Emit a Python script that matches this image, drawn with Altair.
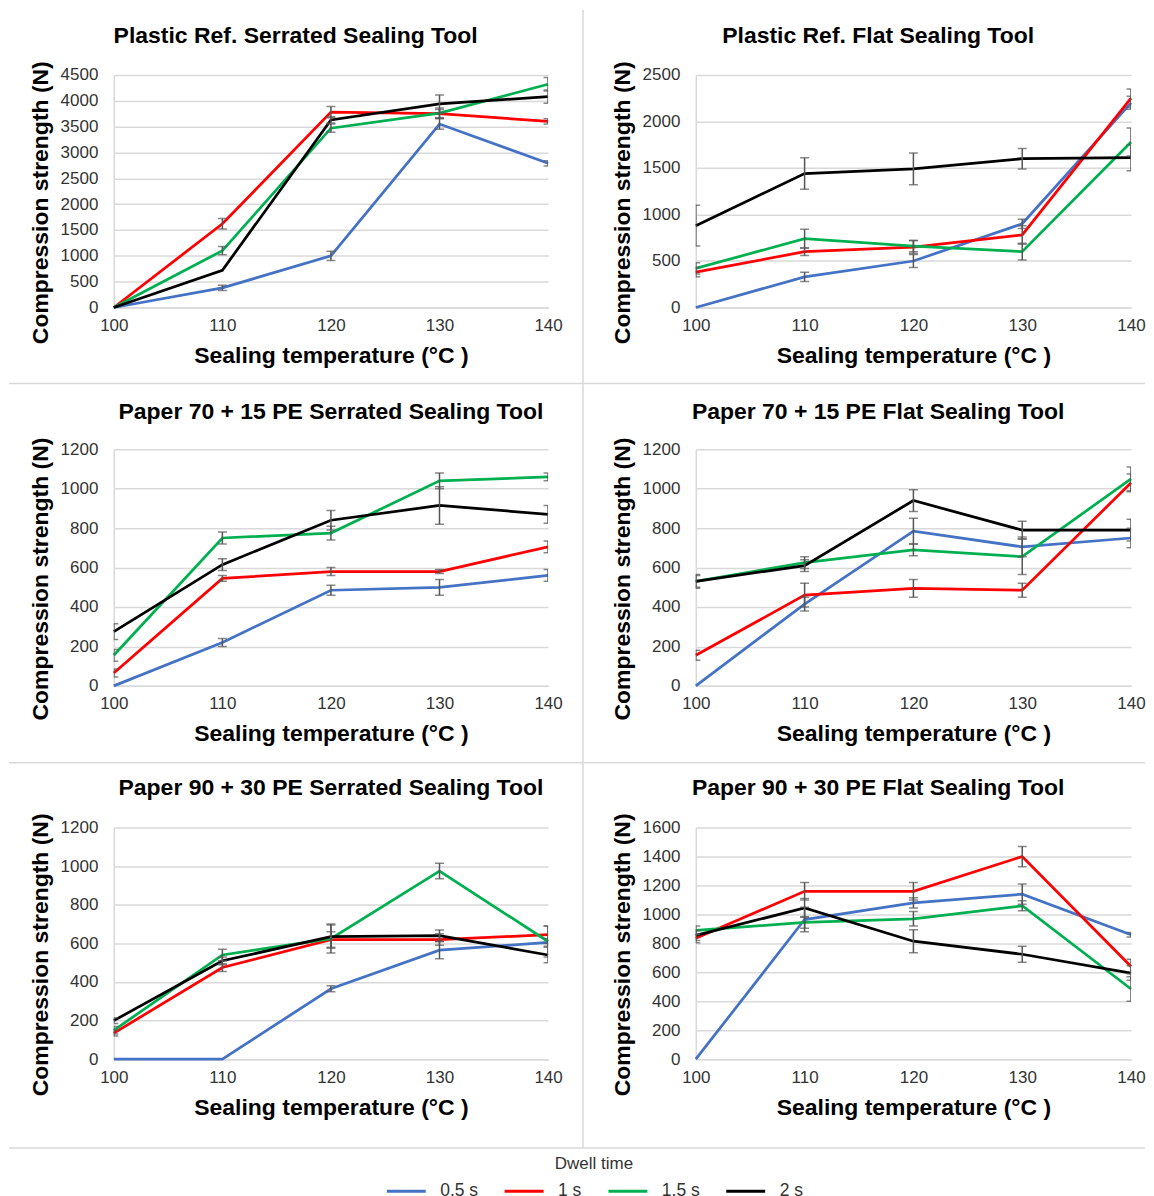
import altair as alt
import pandas as pd

temps = [100, 110, 120, 130, 140]
dwell_times = ["0.5 s", "1 s", "1.5 s", "2 s"]
line_colors = ["#4472C4", "#FF0000", "#00B050", "#000000"]

panel_titles = [
    "Plastic Ref. Serrated Sealing Tool",
    "Plastic Ref. Flat Sealing Tool",
    "Paper 70 + 15 PE Serrated Sealing Tool",
    "Paper 70 + 15 PE Flat Sealing Tool",
    "Paper 90 + 30 PE Serrated Sealing Tool",
    "Paper 90 + 30 PE Flat Sealing Tool",
]
y_max = [4500, 2500, 1200, 1200, 1200, 1600]
y_step = [500, 500, 200, 200, 200, 200]

# mean compression strength (N); rows = dwell time 0.5 s, 1 s, 1.5 s, 2 s
plastic_serrated_mean = [
    [0, 380, 1000, 3550, 2790],
    [0, 1620, 3780, 3750, 3600],
    [0, 1100, 3470, 3760, 4320],
    [0, 720, 3630, 3940, 4080],
]
plastic_serrated_err = [
    [0, 50, 90, 100, 50],
    [0, 100, 110, 80, 50],
    [0, 80, 80, 100, 130],
    [0, 0, 60, 170, 130],
]
plastic_flat_mean = [
    [0, 330, 500, 900, 2200],
    [380, 600, 650, 780, 2250],
    [420, 740, 660, 600, 1780],
    [880, 1440, 1490, 1600, 1610],
]
plastic_flat_err = [
    [0, 50, 70, 50, 70],
    [50, 40, 70, 100, 100],
    [60, 100, 60, 90, 150],
    [220, 170, 170, 110, 140],
]
paper70_serrated_mean = [
    [0, 220, 485, 500, 560],
    [65, 545, 580, 580, 705],
    [155, 750, 775, 1040, 1060],
    [275, 615, 840, 915, 870],
]
paper70_serrated_err = [
    [0, 20, 25, 40, 30],
    [20, 15, 20, 10, 30],
    [30, 30, 35, 40, 20],
    [40, 30, 50, 95, 45],
]
paper70_flat_mean = [
    [0, 415, 785, 705, 750],
    [155, 460, 495, 485, 1030],
    [530, 625, 690, 655, 1050],
    [530, 610, 940, 790, 790],
]
paper70_flat_err = [
    [0, 35, 65, 50, 50],
    [25, 60, 45, 35, 45],
    [30, 30, 30, 90, 60],
    [35, 30, 55, 45, 55],
]
paper90_serrated_mean = [
    [0, 0, 365, 565, 605],
    [135, 475, 620, 620, 645],
    [150, 540, 625, 975, 610],
    [200, 510, 635, 640, 540],
]
paper90_serrated_err = [
    [0, 0, 15, 45, 20],
    [15, 20, 40, 30, 45],
    [20, 30, 75, 40, 80],
    [15, 20, 60, 30, 40],
]
paper90_flat_mean = [
    [0, 965, 1080, 1140, 860],
    [835, 1160, 1160, 1400, 640],
    [890, 945, 970, 1060, 485],
    [855, 1045, 815, 725, 595],
]
paper90_flat_err = [
    [0, 85, 35, 70, 15],
    [30, 60, 60, 70, 50],
    [30, 40, 50, 35, 85],
    [35, 65, 80, 55, 50],
]

panel_means = [plastic_serrated_mean, plastic_flat_mean, paper70_serrated_mean,
               paper70_flat_mean, paper90_serrated_mean, paper90_flat_mean]
panel_errs = [plastic_serrated_err, plastic_flat_err, paper70_serrated_err,
              paper70_flat_err, paper90_serrated_err, paper90_flat_err]

X_TITLE = "Sealing temperature (°C )"
Y_TITLE = "Compression strength (N)"
FONT = "Liberation Sans"
ERR = "#555555"
GRID = "#d9d9d9"
LABEL = "#333333"


def frame(means, errs):
    rows = []
    for d, m_list, e_list in zip(dwell_times, means, errs):
        for t, m, e in zip(temps, m_list, e_list):
            rows.append({"temp": t, "dwell": d, "value": m, "err": e,
                         "lo": m - e, "hi": m + e})
    return pd.DataFrame(rows)


color_enc = alt.Color(
    "dwell:N",
    scale=alt.Scale(domain=dwell_times, range=line_colors),
    legend=alt.Legend(
        title="Dwell time", orient="none", legendX=272, legendY=1083,
        direction="horizontal", columns=4, titleAnchor="middle", titleOrient="top",
        symbolType="stroke", symbolSize=1521, symbolStrokeWidth=3,
        labelOffset=13, columnPadding=20, titlePadding=-3, padding=0,
        labelFontSize=17.5, titleFontSize=17, titleFontWeight="normal",
        labelColor=LABEL, titleColor=LABEL, labelFont=FONT, titleFont=FONT,
    ),
)


def panel(i, w, h, title_frame):
    df = frame(panel_means[i], panel_errs[i])
    y_values = list(range(0, y_max[i] + 1, y_step[i]))
    x_enc = alt.X(
        "temp:Q", scale=alt.Scale(domain=[100, 140], nice=False, zero=False),
        axis=alt.Axis(values=temps, tickCount=len(temps), title=X_TITLE, grid=False,
                      ticks=False, tickSize=0, labelPadding=10, titlePadding=11,
                      format="d", labelFlush=False, labelOverlap=False),
    )
    y_enc = alt.Y(
        "value:Q", scale=alt.Scale(domain=[0, y_max[i]], nice=False, zero=True),
        axis=alt.Axis(values=y_values, tickCount=len(y_values), title=Y_TITLE,
                      grid=True, ticks=False, tickSize=0, labelPadding=16,
                      titlePadding=8, titleY=h / 2 + 11, format="d",
                      labelFlush=False, labelOverlap=False),
    )
    base = alt.Chart(df)
    lines = base.mark_line(strokeWidth=2.75).encode(x=x_enc, y=y_enc, color=color_enc)
    eb = base.transform_filter(alt.datum.err > 0)
    bars = eb.mark_rule(color=ERR, strokeWidth=1.5, clip=True).encode(
        x=alt.X("temp:Q", title=X_TITLE),
        y=alt.Y("lo:Q", title=Y_TITLE), y2="hi:Q")
    cap_hi = eb.mark_tick(color=ERR, thickness=1.5, size=9, orient="horizontal", clip=True).encode(
        x=alt.X("temp:Q", title=X_TITLE), y=alt.Y("hi:Q", title=Y_TITLE))
    cap_lo = eb.mark_tick(color=ERR, thickness=1.5, size=9, orient="horizontal", clip=True).encode(
        x=alt.X("temp:Q", title=X_TITLE), y=alt.Y("lo:Q", title=Y_TITLE))
    return alt.layer(lines, bars, cap_hi, cap_lo).properties(
        width=w, height=h,
        title=alt.TitleParams(panel_titles[i], frame=title_frame, anchor="middle",
                              fontSize=23, fontWeight="bold", font=FONT,
                              color="#000000", offset=13),
    )


# light separator lines between the panels (decoration only); this cell sits
# one row below the last row of panels, so its offsets point back upward
sep_df = pd.DataFrame({"k": [0]})
sep_layers = [
    alt.Chart(sep_df).mark_rule(color=GRID, strokeWidth=1.5).encode(
        x=alt.value(-105), x2=alt.value(1033), y=alt.value(yy))
    for yy in (-819, -439, -53)
]
sep_layers.append(
    alt.Chart(sep_df).mark_rule(color=GRID, strokeWidth=1.5).encode(
        x=alt.value(470), y=alt.value(-1193), y2=alt.value(-53)))
seps = alt.layer(*sep_layers).properties(width=1, height=1)

panels = [
    panel(0, 435, 233, "bounds"), panel(1, 436, 233, "bounds"),
    panel(2, 435, 237, "group"), panel(3, 436, 237, "bounds"),
    panel(4, 435, 232, "group"), panel(5, 436, 232, "bounds"),
]

chart = alt.concat(*panels, seps, columns=2, spacing={"row": 142, "column": 148},
                   bounds="flush").properties(
    padding=0
).configure(font=FONT).configure_view(strokeOpacity=0).configure_axis(
    labelFontSize=17, labelColor=LABEL, labelFont=FONT,
    titleFontSize=23, titleFontWeight="bold", titleColor="#000000", titleFont=FONT,
    domainColor=GRID, domainWidth=1.5, gridColor=GRID, gridWidth=1.5,
)

chart.save("out.html", embed_options={"renderer": "svg", "actions": False})
